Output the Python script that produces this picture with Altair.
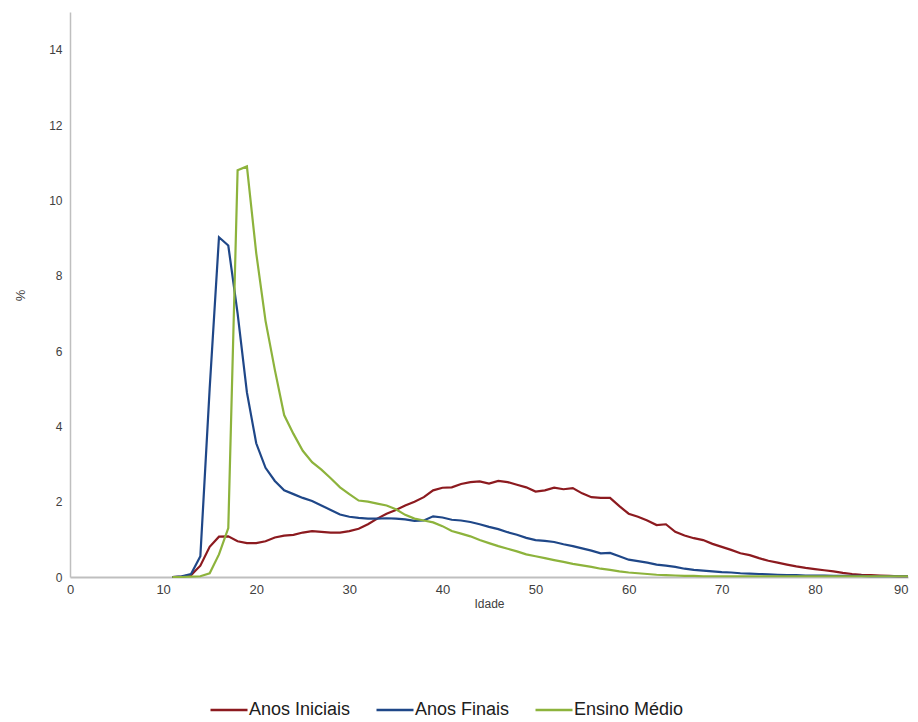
import altair as alt
import pandas as pd

ages = list(range(11, 91))

anos_iniciais = [
    0.00, 0.01, 0.05, 0.30, 0.80, 1.07, 1.08, 0.95, 0.90, 0.90,   # 11-20
    0.95, 1.05, 1.10, 1.12, 1.18, 1.22, 1.20, 1.18, 1.18, 1.22,   # 21-30
    1.28, 1.40, 1.55, 1.68, 1.78, 1.90, 2.00, 2.12, 2.30, 2.37,   # 31-40
    2.38, 2.47, 2.52, 2.54, 2.48, 2.55, 2.52, 2.45, 2.38, 2.27,   # 41-50
    2.30, 2.37, 2.33, 2.36, 2.22, 2.12, 2.10, 2.10, 1.88, 1.68,   # 51-60
    1.60, 1.50, 1.38, 1.40, 1.20, 1.10, 1.03, 0.98, 0.88, 0.80,   # 61-70
    0.72, 0.63, 0.58, 0.50, 0.43, 0.38, 0.33, 0.28, 0.24, 0.21,   # 71-80
    0.18, 0.15, 0.11, 0.08, 0.06, 0.05, 0.04, 0.03, 0.02, 0.02,   # 81-90
]

anos_finais = [
    0.00, 0.02, 0.08, 0.55, 5.00, 9.02, 8.80, 7.00, 4.90, 3.55,   # 11-20
    2.90, 2.55, 2.30, 2.20, 2.10, 2.02, 1.90, 1.78, 1.66, 1.60,   # 21-30
    1.57, 1.55, 1.55, 1.56, 1.55, 1.53, 1.49, 1.50, 1.61, 1.58,   # 31-40
    1.52, 1.50, 1.46, 1.40, 1.33, 1.27, 1.19, 1.12, 1.04, 0.98,   # 41-50
    0.96, 0.93, 0.87, 0.82, 0.76, 0.70, 0.63, 0.64, 0.55, 0.46,   # 51-60
    0.42, 0.38, 0.33, 0.30, 0.27, 0.22, 0.19, 0.17, 0.15, 0.13,   # 61-70
    0.12, 0.10, 0.09, 0.08, 0.07, 0.06, 0.05, 0.05, 0.04, 0.04,   # 71-80
    0.04, 0.03, 0.03, 0.03, 0.03, 0.02, 0.02, 0.02, 0.02, 0.02,   # 81-90
]

ensino_medio = [
    0.00, 0.00, 0.01, 0.02, 0.10, 0.60, 1.30, 10.80, 10.90, 8.60,  # 11-20
    6.80, 5.50, 4.30, 3.80, 3.35, 3.05, 2.85, 2.62, 2.38, 2.20,    # 21-30
    2.03, 2.00, 1.95, 1.90, 1.80, 1.65, 1.55, 1.50, 1.45, 1.35,    # 31-40
    1.22, 1.15, 1.08, 0.98, 0.90, 0.82, 0.75, 0.68, 0.60, 0.55,    # 41-50
    0.50, 0.45, 0.40, 0.35, 0.31, 0.27, 0.22, 0.19, 0.15, 0.12,    # 51-60
    0.10, 0.08, 0.06, 0.05, 0.04, 0.03, 0.03, 0.02, 0.02, 0.02,    # 61-70
    0.02, 0.02, 0.02, 0.02, 0.02, 0.02, 0.02, 0.02, 0.02, 0.02,    # 71-80
    0.02, 0.02, 0.02, 0.02, 0.02, 0.02, 0.02, 0.02, 0.02, 0.02,    # 81-90
]

series_names = ["Anos Iniciais", "Anos Finais", "Ensino Médio"]
series_colors = ["#8C1A1F", "#1F4788", "#8DB33C"]
x_ticks = list(range(0, 91, 10))
y_ticks = list(range(0, 15, 2))

rows = []
for name, vals in zip(series_names, [anos_iniciais, anos_finais, ensino_medio]):
    for a, v in zip(ages, vals):
        rows.append({"Idade": a, "valor": v, "serie": name})
df = pd.DataFrame(rows)

font = "Liberation Sans, Arial, sans-serif"

chart = (
    alt.Chart(df)
    .mark_line(strokeWidth=2.2)
    .encode(
        x=alt.X(
            "Idade:Q",
            scale=alt.Scale(domain=[0, 90], nice=False, zero=True),
            axis=alt.Axis(
                title="Idade",
                values=x_ticks,
                grid=False,
                ticks=False,
                labelFlush=False,
                labelAlign={"condition": {"test": "datum.value >= 90", "value": "right"}, "value": "center"},
                domainColor="#BFBFBF",
                domainWidth=2,
                labelFont=font,
                labelFontSize=13,
                labelColor="#404040",
                labelPadding=6,
                titleFont=font,
                titleFontSize=12,
                titleFontWeight="normal",
                titleColor="#404040",
                titlePadding=2,
            ),
        ),
        y=alt.Y(
            "valor:Q",
            scale=alt.Scale(domain=[0, 15], nice=False),
            axis=alt.Axis(
                title="%",
                values=y_ticks,
                grid=False,
                ticks=False,
                labelFlush=False,
                domainColor="#BFBFBF",
                domainWidth=1.5,
                labelFont=font,
                labelFontSize=12,
                labelColor="#404040",
                labelPadding=8,
                titleFont=font,
                titleFontSize=13,
                titleFontWeight="normal",
                titleColor="#404040",
                titleX=-43,
                titleY=283,
            ),
        ),
        color=alt.Color(
            "serie:N",
            scale=alt.Scale(domain=series_names, range=series_colors),
            sort=series_names,
            legend=alt.Legend(
                title=None,
                orient="none",
                direction="horizontal",
                legendX=139,
                legendY=678,
                symbolType="stroke",
                symbolSize=1369,
                symbolStrokeWidth=2.5,
                labelFont=font,
                labelFontSize=18,
                labelColor="#202020",
                labelOffset=0,
                labelLimit=300,
                columnPadding=20,
            ),
        ),
    )
    .properties(
        width=838,
        height=565,
        autosize=alt.AutoSizeParams(type="none"),
        padding={"left": 62, "top": 4, "right": 2, "bottom": 141},
        background="white",
    )
    .configure_view(stroke=None)
)

chart.save("out.html", embed_options={"renderer": "svg", "actions": False})
